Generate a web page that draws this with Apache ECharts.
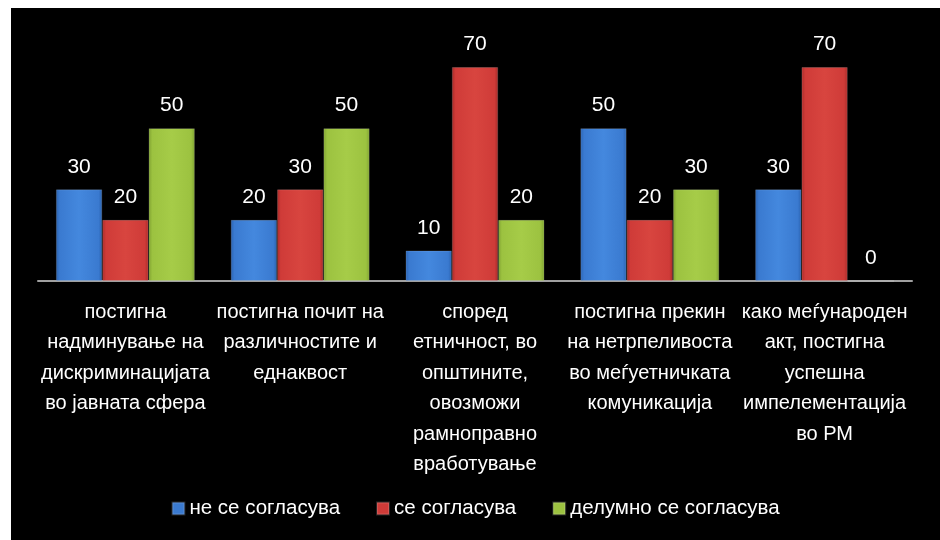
<!DOCTYPE html>
<html>
<head>
<meta charset="utf-8">
<script src="https://cdn.jsdelivr.net/npm/echarts@6/dist/echarts.min.js"></script>
<style>
  html, body { margin: 0; padding: 0; background: #ffffff; }
  #chart { position: absolute; left: 11px; top: 8px; width: 929px; height: 532px; }
</style>
</head>
<body>
<div id="chart"></div>
<script>
const categories = [
  'постигна\nнадминување на\nдискриминацијата\nво јавната сфера',
  'постигна почит на\nразличностите и\nеднаквост',
  'според\nетничност, во\nопштините,\nовозможи\nрамноправно\nвработување',
  'постигна прекин\nна нетрпеливоста\nво меѓуетничката\nкомуникација',
  'како меѓународен\nакт, постигна\nуспешна\nимпелементација\nво РМ'
];
const seriesNames = ['не се согласува', 'се согласува', 'делумно се согласува'];
const disagree = [30, 20, 10, 50, 30];
const agree = [20, 30, 70, 20, 70];
const partial = [50, 50, 20, 30, 0];

const FONT = "'Liberation Sans', Arial, sans-serif";

function grad(dark, main, light) {
  return new echarts.graphic.LinearGradient(0, 0, 1, 0, [
    { offset: 0, color: dark },
    { offset: 0.08, color: main },
    { offset: 0.5, color: light },
    { offset: 0.92, color: main },
    { offset: 1, color: dark }
  ]);
}
const colors = [
  grad('#2a62b0', '#3a7ad0', '#4488de'),
  grad('#a82a28', '#cf3b38', '#d8453f'),
  grad('#7ea030', '#9cc240', '#a6cc48')
];
const iconColors = ['#3a7ad0', '#cf3b38', '#9cc240'];

const chart = echarts.init(document.getElementById('chart'));
const makeSeries = (name, data, i) => ({
  name: name,
  type: 'bar',
  data: data,
  barGap: '0%',
  barCategoryGap: '20.5%',
  itemStyle: { color: colors[i], borderColor: 'rgba(255,255,255,0.15)', borderWidth: 1 },
  label: {
    show: true,
    position: 'top',
    distance: 12,
    color: '#ffffff',
    fontFamily: FONT,
    fontSize: 21
  }
});
chart.setOption({
  backgroundColor: '#000000',
  animation: false,
  color: iconColors,
  legend: {
    bottom: 16,
    left: 'center',
    itemWidth: 12,
    itemHeight: 12,
    itemGap: 36,
    icon: 'rect',
    textStyle: { color: '#ffffff', fontFamily: FONT, fontSize: 20.5 },
    data: seriesNames.map((n, i) => ({ name: n, itemStyle: { color: iconColors[i] } }))
  },
  grid: { left: 27, right: 28, top: 59, bottom: 259, containLabel: false },
  xAxis: {
    type: 'category',
    data: categories,
    axisLine: { show: true, lineStyle: { color: '#a0a0a0', width: 2 } },
    axisTick: { show: false },
    axisLabel: {
      interval: 0,
      color: '#ffffff',
      fontFamily: FONT,
      fontSize: 20,
      lineHeight: 30.5,
      margin: 16,
      align: 'center'
    }
  },
  yAxis: {
    type: 'value',
    min: 0,
    max: 70,
    show: false,
    splitLine: { show: false }
  },
  series: [
    makeSeries(seriesNames[0], disagree, 0),
    makeSeries(seriesNames[1], agree, 1),
    makeSeries(seriesNames[2], partial, 2)
  ]
});
</script>
</body>
</html>
